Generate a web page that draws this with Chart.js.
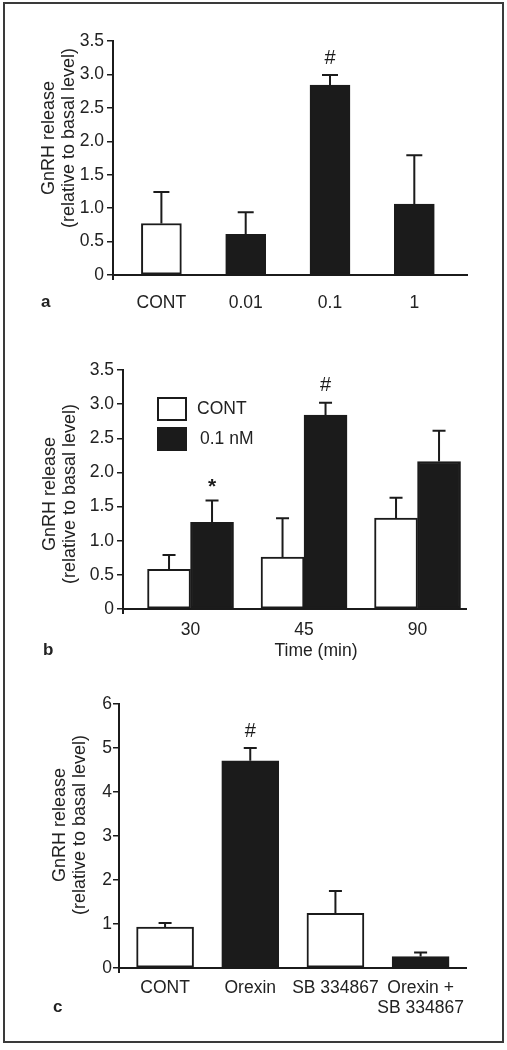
<!DOCTYPE html>
<html><head><meta charset="utf-8">
<script src="https://cdn.jsdelivr.net/npm/chart.js@4.4.1/dist/chart.umd.min.js"></script>
<style>
html,body{margin:0;padding:0;background:#fff;}
#wrap{position:relative;width:507px;height:1050px;}
#frame{position:absolute;left:3px;top:2px;width:501px;height:1041px;box-sizing:border-box;border:2px solid #3a3a3a;}
canvas{position:absolute;left:0;}
</style></head><body>
<div id="wrap">
<div id="frame"></div>
<canvas id="ca" width="507" height="330" style="top:0px"></canvas>
<canvas id="cb" width="507" height="350" style="top:330px"></canvas>
<canvas id="cc" width="507" height="362" style="top:680px"></canvas>
</div>
<script>
// ---- Data ----
const yTitle = ['GnRH release', '(relative to basal level)'];

const catsA = ['CONT', '0.01', '0.1', '1'];
const valuesA = [0.77, 0.61, 2.84, 1.06];
const semA = [0.47, 0.33, 0.15, 0.73];
const sigA = ['', '', '#', ''];
const yTicksA = ['0', '0.5', '1.0', '1.5', '2.0', '2.5', '3.0', '3.5'];

const catsB = ['30', '45', '90'];
const seriesB = ['CONT', '0.1 nM'];
const contB = [0.58, 0.76, 1.33];
const contSemB = [0.21, 0.57, 0.30];
const nmB = [1.27, 2.84, 2.16];
const nmSemB = [0.32, 0.18, 0.45];
const sigContB = ['', '', ''];
const sigNmB = ['*', '#', ''];
const yTicksB = ['0', '0.5', '1.0', '1.5', '2.0', '2.5', '3.0', '3.5'];
const xTitleB = 'Time (min)';

const catsC = ['CONT', 'Orexin', 'SB 334867', ['Orexin +', 'SB 334867']];
const valuesC = [0.93, 4.71, 1.24, 0.26];
const semC = [0.09, 0.29, 0.51, 0.09];
const sigC = ['', '#', '', ''];
const yTicksC = ['0', '1', '2', '3', '4', '5', '6'];

// ---- Styles ----
const DARK = '#1b1b1b';
const WHITE = '#ffffff';
const FONT = "'Liberation Sans', Arial, sans-serif";
const FS = 17.5;
const fillsA = [WHITE, DARK, DARK, DARK];
const fillsC = [WHITE, DARK, WHITE, DARK];

Chart.defaults.font.family = FONT;
Chart.defaults.font.size = FS;
Chart.defaults.color = '#222';

const errPlugin = {
  id: 'errs',
  afterDatasetsDraw(chart, args, opts) {
    const ctx = chart.ctx; const y = chart.scales.y;
    chart.data.datasets.forEach((ds, di) => {
      const meta = chart.getDatasetMeta(di);
      meta.data.forEach((bar, i) => {
        const v = ds.data[i].y;
        const top = y.getPixelForValue(v + ds.sem[i]);
        ctx.save();
        ctx.strokeStyle = DARK; ctx.lineWidth = 2;
        ctx.beginPath();
        ctx.moveTo(bar.x, bar.y); ctx.lineTo(bar.x, top);
        ctx.moveTo(bar.x - opts.cap / 2, top); ctx.lineTo(bar.x + opts.cap / 2, top);
        ctx.stroke();
        const s = ds.sig[i];
        if (s) {
          ctx.fillStyle = DARK;
          ctx.font = (s === '*' ? 'bold 21px ' : '20px ') + FONT;
          ctx.textAlign = 'center'; ctx.textBaseline = 'middle';
          ctx.fillText(s, bar.x, top - (s === '*' ? 13 : 17));
        }
        ctx.restore();
      });
    });
  }
};

const decorPlugin = {
  id: 'decor',
  afterDraw(chart, args, o) {
    const ctx = chart.ctx; const ca = chart.chartArea;
    ctx.save();
    ctx.strokeStyle = DARK; ctx.lineWidth = 2;
    ctx.beginPath(); ctx.moveTo(ca.left, ca.bottom); ctx.lineTo(ca.left, ca.bottom + 5); ctx.stroke();
    ctx.fillStyle = '#222';
    ctx.font = 'bold 17px ' + FONT; ctx.textAlign = 'left'; ctx.textBaseline = 'middle';
    ctx.fillText(o.letter, o.letterX, o.letterY);
    ctx.font = '18px ' + FONT; ctx.textAlign = 'center';
    yTitle.forEach((t, k) => {
      ctx.save(); ctx.translate(o.titleX[k], o.titleY); ctx.rotate(-Math.PI / 2);
      ctx.fillText(t, 0, 0); ctx.restore();
    });
    ctx.font = FS + 'px ' + FONT;
    if (o.xTitle) ctx.fillText(o.xTitle, o.xTitleX, o.xTitleY);
    if (o.legend) {
      chart.data.datasets.forEach((ds, k) => {
        const bx = o.legend.x, by = o.legend.y + k * o.legend.step;
        ctx.fillStyle = ds.backgroundColor; ctx.fillRect(bx, by, 30, 24);
        ctx.strokeStyle = DARK; ctx.lineWidth = 2; ctx.strokeRect(bx + 1, by + 1, 28, 22);
        ctx.fillStyle = '#222'; ctx.textAlign = 'left';
        ctx.fillText(ds.label, bx + 40 + k * 3, by + 12);
      });
    }
    ctx.restore();
  }
};

function yScale(max, step, labels, width, pad) {
  return {
    min: 0, max: max,
    ticks: { stepSize: step, padding: pad, callback: (v, i) => labels[i] },
    grid: { display: true, drawOnChartArea: false, drawTicks: true, tickLength: 6, color: DARK, lineWidth: 1.5 },
    border: { display: true, color: DARK, width: 2 },
    afterFit: s => { s.width = width; }
  };
}
function xScale(cats, min, max, pad, lh, h) {
  return {
    type: 'linear', min: min, max: max, offset: false,
    afterBuildTicks: s => { s.ticks = cats.map((c, i) => ({ value: i })); },
    ticks: { autoSkip: false, maxRotation: 0, minRotation: 0, padding: pad,
             font: { size: FS, lineHeight: lh }, callback: (v, i) => cats[i] },
    grid: { display: false },
    border: { display: true, color: DARK, width: 2 },
    afterFit: s => { s.height = h; }
  };
}
function pts(vals) { return vals.map((v, i) => ({ x: i, y: v })); }

new Chart(document.getElementById('ca'), {
  type: 'bar',
  data: { datasets: [{ label: 'a', data: pts(valuesA), sem: semA, sig: sigA,
    backgroundColor: fillsA, borderColor: DARK, borderWidth: 2, borderSkipped: false, barThickness: 40 }] },
  options: {
    responsive: false, animation: false, devicePixelRatio: 1,
    layout: { padding: { top: 41, bottom: 5, left: 0, right: 40 } },
    scales: { x: xScale(catsA, -0.574, 3.625, 10, 1.2, 50), y: yScale(3.5, 0.5, yTicksA, 113, 3) },
    plugins: { legend: { display: false }, tooltip: { enabled: false },
      errs: { cap: 16 },
      decor: { letter: 'a', letterX: 41, letterY: 302, titleX: [49, 69], titleY: 138 } }
  },
  plugins: [errPlugin, decorPlugin]
});

new Chart(document.getElementById('cb'), {
  type: 'bar',
  data: { datasets: [
    { label: seriesB[0], data: pts(contB), sem: contSemB, sig: sigContB,
      backgroundColor: WHITE, borderColor: DARK, borderWidth: 2, borderSkipped: false, barThickness: 43 },
    { label: seriesB[1], data: pts(nmB), sem: nmSemB, sig: sigNmB,
      backgroundColor: DARK, borderColor: DARK, borderWidth: 2, borderSkipped: false, barThickness: 43 }
  ] },
  options: {
    responsive: false, animation: false, devicePixelRatio: 1,
    layout: { padding: { top: 40, bottom: 21, left: 0, right: 41 } },
    scales: { x: xScale(catsB, -0.595, 2.427, 3, 1.2, 50), y: yScale(3.5, 0.5, yTicksB, 123, 3) },
    plugins: { legend: { display: false }, tooltip: { enabled: false },
      errs: { cap: 13 },
      decor: { letter: 'b', letterX: 43, letterY: 320, titleX: [50, 70], titleY: 164,
        xTitle: xTitleB, xTitleX: 316, xTitleY: 321,
        legend: { x: 157, y: 67, step: 30 } } }
  },
  plugins: [errPlugin, decorPlugin]
});

new Chart(document.getElementById('cc'), {
  type: 'bar',
  data: { datasets: [{ label: 'c', data: pts(valuesC), sem: semC, sig: sigC,
    backgroundColor: fillsC, borderColor: DARK, borderWidth: 2, borderSkipped: false, barThickness: 57 }] },
  options: {
    responsive: false, animation: false, devicePixelRatio: 1,
    layout: { padding: { top: 24, bottom: 4, left: 0, right: 41 } },
    scales: { x: xScale(catsC, -0.541, 3.533, 3, 1.1, 70), y: yScale(6, 1, yTicksC, 119, 1) },
    plugins: { legend: { display: false }, tooltip: { enabled: false },
      errs: { cap: 13 },
      decor: { letter: 'c', letterX: 53, letterY: 327, titleX: [60, 80], titleY: 145 } }
  },
  plugins: [errPlugin, decorPlugin]
});
</script>
</body></html>
